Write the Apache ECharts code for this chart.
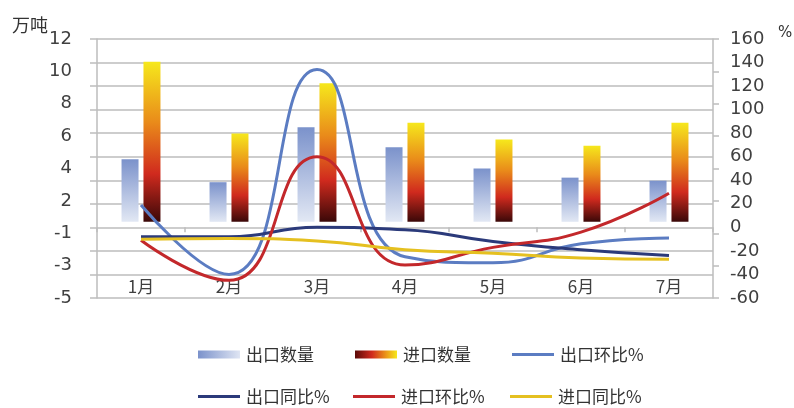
<!DOCTYPE html>
<html>
<head>
<meta charset="utf-8">
<script src="https://cdn.jsdelivr.net/npm/echarts@6/dist/echarts.min.js"></script>
<style>
html, body { margin: 0; padding: 0; background: #fff; }
#chart { width: 794px; height: 408px; }
</style>
</head>
<body>
<div id="chart"></div>
<script>
// Months on the category axis
const months = ['1月', '2月', '3月', '4月', '5月', '6月', '7月'];

// Quantities, 万吨 (left axis)
const exportQty = [4.1, 2.6, 6.2, 4.9, 3.5, 2.9, 2.7];
const importQty = [10.5, 5.8, 9.1, 6.5, 5.4, 5.0, 6.5];

// Percent changes (right axis)
const exportMoM = [19, -40, 134, -25, -30, -14, -9];
const exportYoY = [-8, -8, 0, -2, -12, -19, -24];
const importMoM = [-11, -45, 60, -32, -17, -4, 29];
const importYoY = [-10, -9.5, -11.5, -19, -22, -26, -27];

// Tick labels printed along the left axis, bottom to top
const leftTickLabels = ['-5', '-3', '-1', '2', '4', '6', '8', '10', '12'];

const G = echarts.graphic;
const blueBar = new G.LinearGradient(0, 0, 0, 1, [
  { offset: 0, color: '#7b92cb' },
  { offset: 1, color: '#e2e8f4' }
]);
const fireBar = new G.LinearGradient(0, 0, 0, 1, [
  { offset: 0, color: '#f6e81c' },
  { offset: 0.38, color: '#e98a1a' },
  { offset: 0.7, color: '#d02a1e' },
  { offset: 1, color: '#3a0808' }
]);
const blueLegend = new G.LinearGradient(0, 0, 1, 0, [
  { offset: 0, color: '#7b92cb' },
  { offset: 1, color: '#dfe5f3' }
]);
const fireLegend = new G.LinearGradient(0, 0, 1, 0, [
  { offset: 0, color: '#5a0a08' },
  { offset: 0.4, color: '#d02a1e' },
  { offset: 0.75, color: '#ec9a1a' },
  { offset: 1, color: '#f6e81c' }
]);

const lineColors = {
  '出口环比%': '#5b7cc2',
  '出口同比%': '#2b3a7a',
  '进口环比%': '#c3282b',
  '进口同比%': '#e5c020'
};

const gray = '#bdbdbd';
const labelColor = '#404040';
const numFont = 'DejaVu Sans';
const cjkFont = 'Noto Sans CJK SC';

// One legend per entry so the two rows line up in columns
const legendSpots = [
  { name: '出口数量', left: 198, y: 356, h: 8, color: blueLegend },
  { name: '进口数量', left: 355, y: 356, h: 8, color: fireLegend },
  { name: '出口环比%', left: 512, y: 356, h: 3, color: lineColors['出口环比%'] },
  { name: '出口同比%', left: 198, y: 398, h: 3, color: lineColors['出口同比%'] },
  { name: '进口环比%', left: 353, y: 398, h: 3, color: lineColors['进口环比%'] },
  { name: '进口同比%', left: 510, y: 398, h: 3, color: lineColors['进口同比%'] }
];
const legends = legendSpots.map(s => ({
  left: s.left,
  top: s.y - 10,
  padding: 0,
  itemWidth: 42,
  itemHeight: s.h,
  itemGap: 0,
  icon: 'rect',
  textStyle: { fontSize: 17, color: '#333', fontFamily: cjkFont, padding: [0, 0, 0, 1] },
  data: [{ name: s.name, icon: 'rect', itemStyle: { color: s.color } }]
}));

function lineSeries(name, data) {
  return {
    name: name,
    type: 'line',
    xAxisIndex: 0,
    yAxisIndex: 1,
    data: data,
    smooth: true,
    symbol: 'none',
    lineStyle: { width: 3, color: lineColors[name] },
    itemStyle: { color: lineColors[name] },
    z: 5
  };
}

const option = {
  animation: false,
  backgroundColor: '#fff',
  grid: { left: 97, right: 81, top: 39, bottom: 110 },
  legend: legends,
  graphic: [
    { type: 'text', left: 12, top: 16, style: { text: '万吨', fontSize: 18, fill: '#333', fontFamily: cjkFont } },
    { type: 'text', left: 778, top: 26, style: { text: '%', fontSize: 15, fill: '#333', fontFamily: numFont } }
  ],
  xAxis: [
    {
      type: 'category',
      data: months,
      position: 'bottom',
      axisLine: { show: false, onZero: false },
      axisTick: { show: false },
      axisLabel: { inside: true, margin: 3, fontSize: 17, color: labelColor, fontFamily: cjkFont }
    },
    {
      type: 'category',
      data: months,
      position: 'bottom',
      axisLine: { show: false, onZero: true, onZeroAxisIndex: 1 },
      axisTick: { show: true, length: 5, lineStyle: { color: gray, width: 1.5 } },
      axisLabel: { show: false }
    }
  ],
  yAxis: [
    { type: 'value', min: -5, max: 12, show: false },
    {
      type: 'value', position: 'right', min: -60, max: 160, interval: 20,
      axisLine: { show: true, lineStyle: { color: gray, width: 1.5 } },
      axisTick: { show: false },
      splitLine: { show: true, lineStyle: { color: gray, width: 1.5 } },
      axisLabel: { margin: 17, fontSize: 18, color: labelColor, fontFamily: numFont }
    },
    {
      type: 'value', position: 'left', min: 0, max: 8, interval: 1,
      axisLine: { show: true, lineStyle: { color: gray, width: 1.5 } },
      axisTick: { show: false },
      splitLine: { show: false },
      axisLabel: {
        margin: 25, fontSize: 18, color: labelColor, fontFamily: numFont,
        formatter: v => leftTickLabels[Math.round(v)] || ''
      }
    },
    {
      type: 'value', position: 'left', min: -60, max: 160, interval: 20,
      axisLine: { show: false },
      axisTick: { show: true, length: 7, lineStyle: { color: gray, width: 1.5 } },
      splitLine: { show: false },
      axisLabel: { show: false }
    },
    {
      type: 'value', position: 'right', min: 0, max: 8, interval: 1,
      axisLine: { show: false },
      axisTick: { show: true, length: 6, lineStyle: { color: gray, width: 1.5 } },
      splitLine: { show: false },
      axisLabel: { show: false }
    }
  ],
  series: [
    {
      name: '出口数量', type: 'bar', xAxisIndex: 0, yAxisIndex: 0,
      data: exportQty, barWidth: 17, barGap: '29%',
      itemStyle: { color: blueBar }, z: 2
    },
    {
      name: '进口数量', type: 'bar', xAxisIndex: 0, yAxisIndex: 0,
      data: importQty, barWidth: 17, barGap: '29%',
      itemStyle: { color: fireBar }, z: 2
    },
    lineSeries('出口环比%', exportMoM),
    lineSeries('出口同比%', exportYoY),
    lineSeries('进口环比%', importMoM),
    lineSeries('进口同比%', importYoY)
  ]
};

const chart = echarts.init(document.getElementById('chart'), null, { renderer: 'canvas' });
chart.setOption(option);
</script>
</body>
</html>
